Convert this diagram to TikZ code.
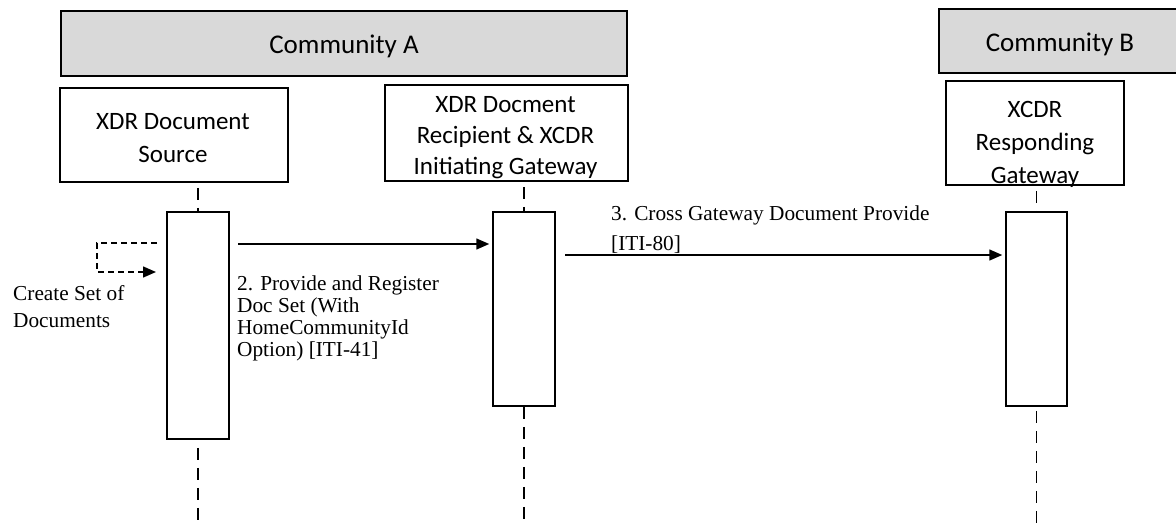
\documentclass[tikz,border=0pt]{standalone}
\usepackage{fontspec}
\setmainfont{Liberation Serif}
\setsansfont{Carlito}
\usetikzlibrary{arrows.meta,calc}
\definecolor{commgray}{HTML}{D9D9D9}
\begin{document}
\begin{tikzpicture}[x=1pt,y=-1pt,
  lw/.style={line width=1.5pt},
  commbox/.style={draw,lw,fill=commgray,inner sep=0pt,font=\sffamily\fontsize{27}{32}\selectfont},
  commtext/.style={inner sep=0pt,font=\sffamily\fontsize{27}{32}\selectfont},
  partbox/.style={draw,lw,fill=white,inner sep=0pt},
  parttext/.style={align=center,inner sep=0pt,font=\sffamily\fontsize{25}{31}\selectfont},
  actbox/.style={draw,lw,fill=white,inner sep=0pt,minimum width=62pt},
  lifeline/.style={lw,dash pattern=on 12pt off 8pt,dash phase=15pt},
  msg/.style={lw,-{Triangle[length=13pt,width=11pt]}},
  selfmsg/.style={lw,dash pattern=on 6pt off 4pt,-{Triangle[length=13pt,width=11pt]}},
  msgtext/.style={align=left,inner sep=0pt,anchor=north west,font=\fontsize{21.3}{22}\selectfont}
]
\useasboundingbox (0,0) rectangle (1176,525);
\clip (0,0) rectangle (1176,525);

% communities
\node[commbox,minimum width=566pt,minimum height=65pt] (commA) at (344,43.5) {};
\node[commtext] (commAtext) at (344,46.5) {Community A};
\node[commbox,minimum width=243pt,minimum height=64pt] (commB) at (1060.5,41) {};
\node[commtext] (commBtext) at (1060,44) {Community B};

% participants
\node[partbox,minimum width=228pt,minimum height=94pt] (src) at (174,135) {};
\node[parttext,font=\sffamily\fontsize{25}{33}\selectfont] (srctext) at (173,138) {XDR Document\\Source};
\node[partbox,minimum width=243pt,minimum height=96pt] (rcp) at (506.5,133) {};
\node[parttext] (rcptext) at (505.5,137.5) {XDR Docment\\Recipient \& XCDR\\Initiating Gateway};
\node[partbox,minimum width=178pt,minimum height=104pt] (rsp) at (1035,133) {};
\node[parttext,font=\sffamily\fontsize{25}{33}\selectfont] (rsptext) at (1035,144) {XCDR\\Responding\\Gateway};

% lifeline positions
\coordinate (srcX) at (198,0);
\coordinate (rcpX) at (524,0);
\coordinate (rspX) at (1036.5,0);
\coordinate (bottom) at (0,525);

\draw[lifeline] (src.south -| srcX) -- (srcX |- bottom);
\draw[lifeline] (rcp.south -| rcpX) -- (rcpX |- bottom);
\draw[lifeline] (rsp.south -| rspX) -- (rspX |- bottom);

% activations
\node[actbox,minimum height=227pt] (sact) at (198,325.5) {};
\node[actbox,minimum height=194pt] (ract) at (524,309) {};
\node[actbox,minimum width=61pt,minimum height=194pt] (pact) at (1036.5,309) {};

% self message
\coordinate (selfA) at (157,243);
\coordinate (selfB) at (97,243);
\coordinate (selfC) at (97,272);
\coordinate (selfD) at (156,272);
\draw[selfmsg] (selfA) -- (selfB) -- (selfC) -- (selfD);
\node[msgtext,font=\fontsize{21.3}{27}\selectfont] (createtext) at (13,285) {Create Set of\\Documents};

% message 2
\coordinate (m2s) at (238,244);
\draw[msg,shorten >=3pt] (m2s) -- (m2s -| ract.west);
\node[msgtext] (m2text) at (237,276) {2. Provide and Register\\Doc Set (With\\HomeCommunityId\\Option) [ITI-41]};

% message 3
\coordinate (m3s) at (565,255);
\draw[msg,shorten >=3pt] (m3s) -- (m3s -| pact.west);
\node[msgtext,font=\fontsize{21.3}{30}\selectfont] (m3text) at (611,206) {3. Cross Gateway Document Provide\\{[ITI-80]}};
\end{tikzpicture}
\end{document}
